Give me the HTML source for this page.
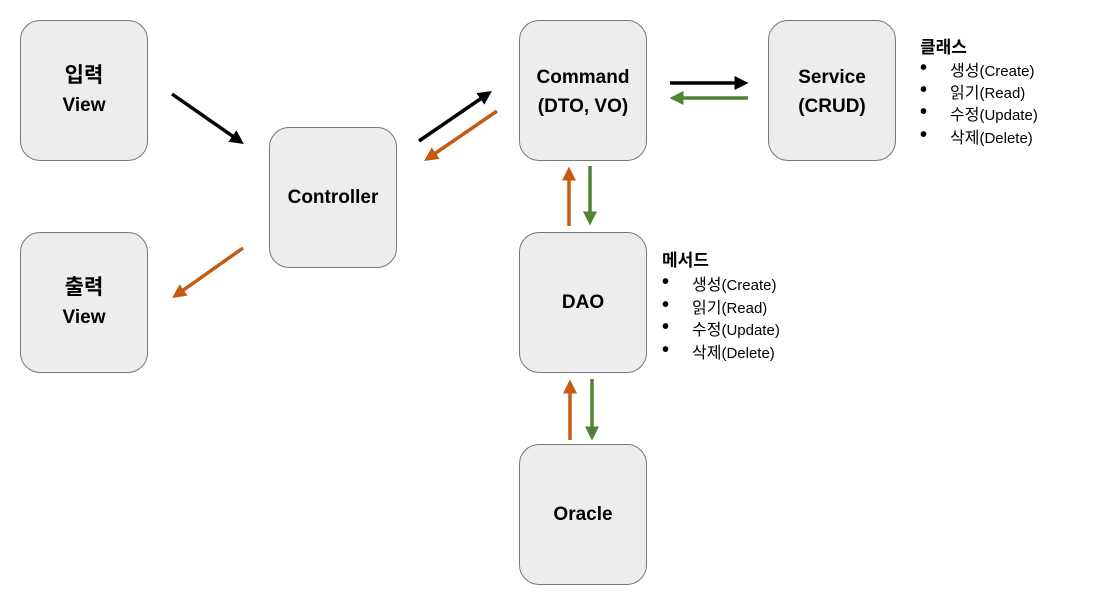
<!DOCTYPE html>
<html><head><meta charset="utf-8"><style>
body{margin:0;width:1094px;height:603px;background:#fff;position:relative;overflow:hidden;font-family:"Liberation Sans","Noto Sans CJK KR",sans-serif}
.b{position:absolute;width:128px;height:141px;background:#ededed;border:1px solid #777;border-radius:20px;box-sizing:border-box;display:flex;align-items:center;justify-content:center;text-align:center;font-weight:bold;font-size:19px;line-height:29px;color:#000}
.t{position:absolute;font-size:16px;color:#000}
.t b{font-size:17px}
.l{position:absolute;font-size:16px;white-space:nowrap}
.l span{font-size:15px}
.d{position:absolute;font-size:20px;font-weight:bold;line-height:20px}
</style></head><body>
<div class="b" style="left:20px;top:20px"><div><span style="font-size:21px">입력</span><br>View</div></div>
<div class="b" style="left:20px;top:232px"><div><span style="font-size:21px">출력</span><br>View</div></div>
<div class="b" style="left:269px;top:127px">Controller</div>
<div class="b" style="left:519px;top:20px;align-items:flex-start;padding-top:42px"><div>Command<br>(DTO, VO)</div></div>
<div class="b" style="left:768px;top:20px;align-items:flex-start;padding-top:42px"><div>Service<br>(CRUD)</div></div>
<div class="b" style="left:519px;top:232px">DAO</div>
<div class="b" style="left:519px;top:444px">Oracle</div>
<svg width="1094" height="603" style="position:absolute;left:0;top:0">
<defs>
<marker id="k" markerWidth="4" markerHeight="4" refX="3" refY="2" orient="auto" markerUnits="strokeWidth"><path d="M0,0L4,2L0,4z" fill="#000"/></marker>
<marker id="o" markerWidth="4" markerHeight="4" refX="3" refY="2" orient="auto" markerUnits="strokeWidth"><path d="M0,0L4,2L0,4z" fill="#c55a11"/></marker>
<marker id="g" markerWidth="4" markerHeight="4" refX="3" refY="2" orient="auto" markerUnits="strokeWidth"><path d="M0,0L4,2L0,4z" fill="#548235"/></marker>
</defs>
<g stroke-width="3.5" fill="none">
<line x1="172" y1="94" x2="241" y2="142" stroke="#000" marker-end="url(#k)"/>
<line x1="243" y1="248" x2="175" y2="296" stroke="#c55a11" marker-end="url(#o)"/>
<line x1="419" y1="141" x2="489" y2="93" stroke="#000" marker-end="url(#k)"/>
<line x1="497" y1="111" x2="427" y2="159" stroke="#c55a11" marker-end="url(#o)"/>
<line x1="670" y1="83" x2="745" y2="83" stroke="#000" marker-end="url(#k)"/>
<line x1="748" y1="98" x2="673" y2="98" stroke="#548235" marker-end="url(#g)"/>
<line x1="569" y1="226" x2="569" y2="170" stroke="#c55a11" marker-end="url(#o)"/>
<line x1="590" y1="166" x2="590" y2="222" stroke="#548235" marker-end="url(#g)"/>
<line x1="570" y1="440" x2="570" y2="383" stroke="#c55a11" marker-end="url(#o)"/>
<line x1="592" y1="379" x2="592" y2="437" stroke="#548235" marker-end="url(#g)"/>
</g></svg>
<div class="t" style="left:920px;top:33px"><b>클래스</b></div>
<div class="d" style="left:920px;top:58px">•</div><div class="l" style="left:950px;top:57px">생성<span>(Create)</span></div>
<div class="d" style="left:920px;top:80px">•</div><div class="l" style="left:950px;top:79px">읽기<span>(Read)</span></div>
<div class="d" style="left:920px;top:102px">•</div><div class="l" style="left:950px;top:101px">수정<span>(Update)</span></div>
<div class="d" style="left:920px;top:125px">•</div><div class="l" style="left:950px;top:124px">삭제<span>(Delete)</span></div>
<div class="t" style="left:662px;top:246px"><b>메서드</b></div>
<div class="d" style="left:662px;top:272px">•</div><div class="l" style="left:692px;top:271px">생성<span>(Create)</span></div>
<div class="d" style="left:662px;top:295px">•</div><div class="l" style="left:692px;top:294px">읽기<span>(Read)</span></div>
<div class="d" style="left:662px;top:317px">•</div><div class="l" style="left:692px;top:316px">수정<span>(Update)</span></div>
<div class="d" style="left:662px;top:340px">•</div><div class="l" style="left:692px;top:339px">삭제<span>(Delete)</span></div>
</body></html>
